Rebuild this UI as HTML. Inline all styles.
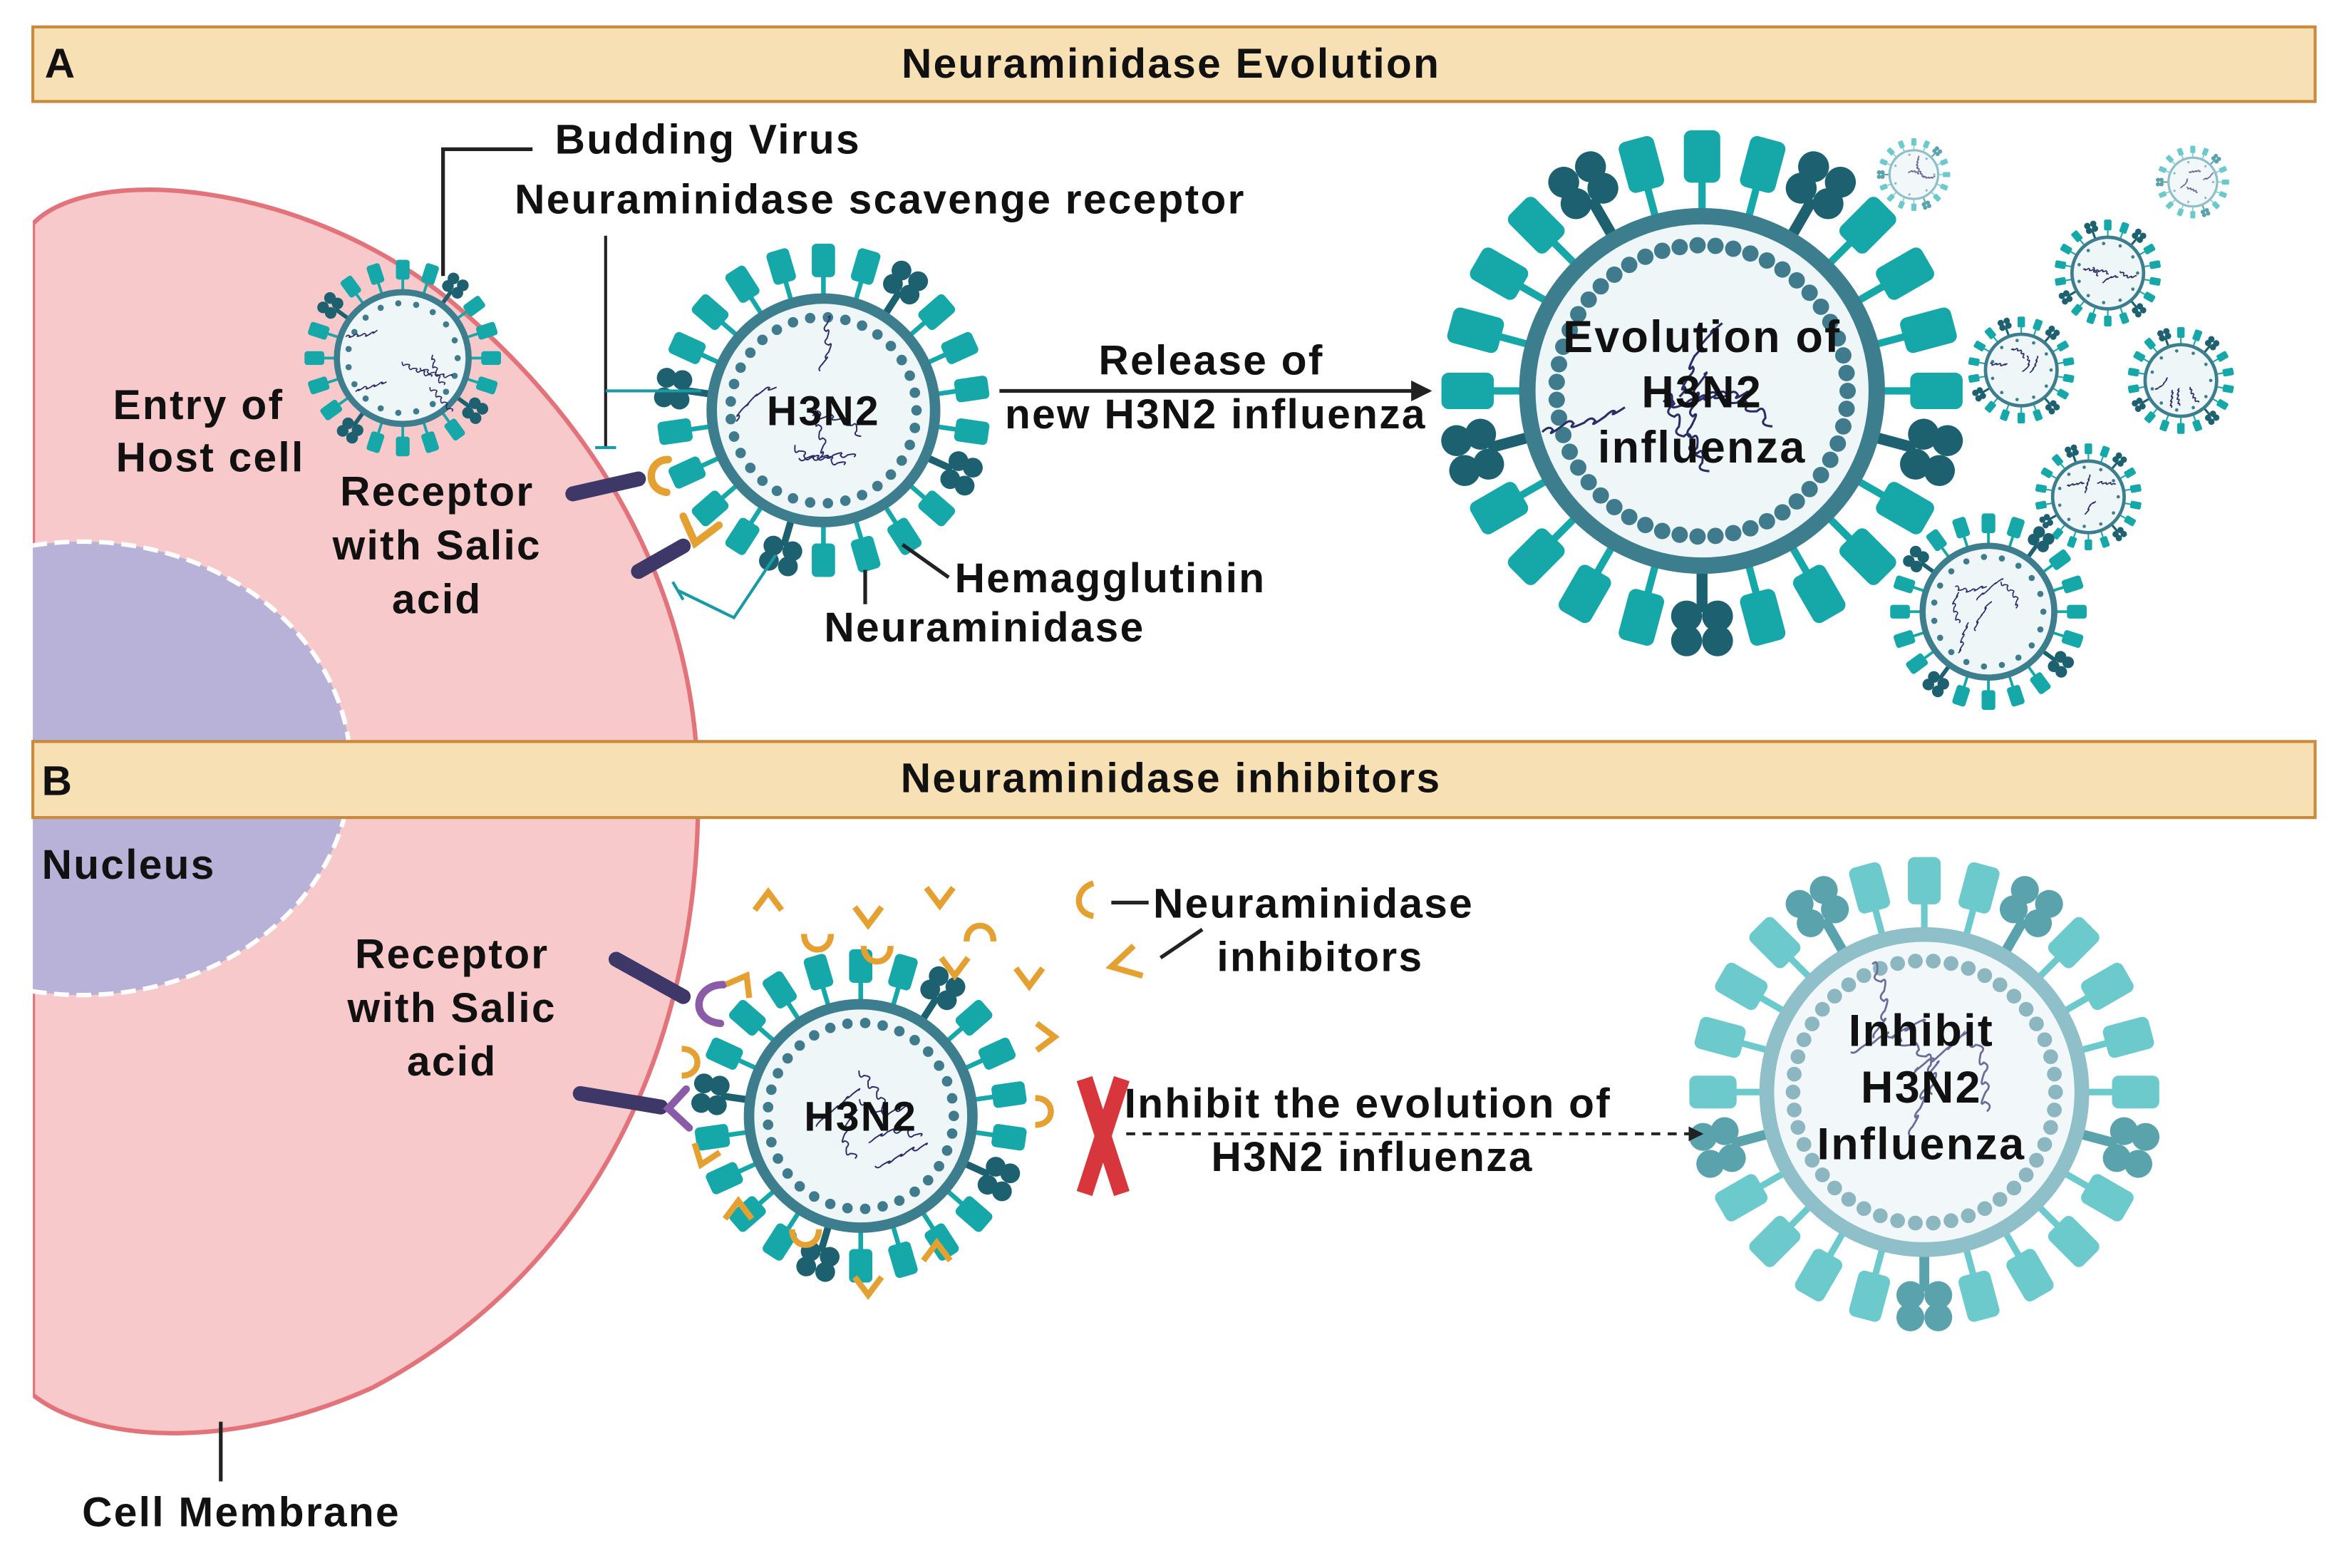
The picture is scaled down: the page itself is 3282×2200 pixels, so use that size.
<!DOCTYPE html>
<html><head><meta charset="utf-8">
<style>
html,body{margin:0;padding:0;background:#fff;}
svg{display:block;}
text{font-family:"Liberation Sans",sans-serif;font-weight:bold;fill:#111;letter-spacing:1.1px;}
</style></head>
<body>
<svg id="s" width="3282" height="2200" viewBox="0 0 1568 1051" xmlns="http://www.w3.org/2000/svg">
<defs>
<clipPath id="cellclip"><path d="M22,150 C60,110 200,120 300,200 C420,300 470,420 468,540 C466,700 400,850 250,930 C150,975 60,965 22,935 Z"/></clipPath>
<marker id="ah" markerWidth="10" markerHeight="10" refX="8" refY="5" orient="auto" markerUnits="userSpaceOnUse"><path d="M0,0 L10,5 L0,10 Z" fill="#222"/></marker>
<marker id="ah2" markerWidth="14" markerHeight="14" refX="12" refY="7" orient="auto" markerUnits="userSpaceOnUse"><path d="M0,0 L14,7 L0,14 Z" fill="#222"/></marker>
</defs>
<rect width="1568" height="1051" fill="#fff"/>
<path d="M22,150 C60,110 200,120 300,200 C420,300 470,420 468,540 C466,700 400,850 250,930 C150,975 60,965 22,935 Z" fill="#f8c9cb" stroke="#e2737a" stroke-width="3"/>
<g clip-path="url(#cellclip)">
<ellipse cx="55" cy="515" rx="180" ry="152" fill="#b8b1d8" stroke="#fff" stroke-width="3" stroke-dasharray="10,5"/>
</g>
<rect x="0" y="140" width="22" height="820" fill="#fff"/>
<rect x="22" y="18" width="1530" height="50" fill="#f6e0b4" stroke="#c98a3e" stroke-width="2"/>
<text x="30" y="52" font-size="28">A</text>
<text x="785" y="52" font-size="28" text-anchor="middle">Neuraminidase Evolution</text>
<rect x="22" y="497" width="1530" height="51" fill="#f6e0b4" stroke="#c98a3e" stroke-width="2"/>
<text x="28" y="533" font-size="28">B</text>
<text x="785" y="531" font-size="28" text-anchor="middle">Neuraminidase inhibitors</text>

<g id="viruses"></g>

<g stroke-linecap="round">
<line x1="384" y1="331" x2="428" y2="321" stroke="#3d3868" stroke-width="10"/>
<path d="M448,308 C434,308 432,328 447,330" fill="none" stroke="#e5a032" stroke-width="5"/>
<line x1="428" y1="383" x2="458" y2="366" stroke="#3d3868" stroke-width="10"/>
<path d="M458,346 L466,364 L482,352" fill="none" stroke="#e5a032" stroke-width="5"/>
<line x1="413" y1="643" x2="458" y2="668" stroke="#3d3868" stroke-width="10"/>
<path d="M485,660 C465,660 462,684 483,686" fill="none" stroke="#8a5ca8" stroke-width="5"/>
<line x1="389" y1="733" x2="443" y2="742" stroke="#3d3868" stroke-width="10"/>
<path d="M460,730 L448,743 L462,756" fill="none" stroke="#8a5ca8" stroke-width="5"/>
</g>

<polyline points="357,100 297,100 297,185" fill="none" stroke="#222" stroke-width="2.5"/>
<line x1="406" y1="158" x2="406" y2="300" stroke="#222" stroke-width="2"/>
<line x1="406" y1="262" x2="470" y2="262" stroke="#1a9aa5" stroke-width="2"/>
<line x1="399" y1="300" x2="413" y2="300" stroke="#1a9aa5" stroke-width="2"/>
<polyline points="455,396 492,414 520,372" fill="none" stroke="#1a9aa5" stroke-width="2"/>
<line x1="451" y1="390" x2="458" y2="402" stroke="#1a9aa5" stroke-width="2"/>
<line x1="605" y1="365" x2="636" y2="387" stroke="#222" stroke-width="2.5"/>
<line x1="580" y1="382" x2="580" y2="405" stroke="#222" stroke-width="2.5"/>
<line x1="670" y1="262" x2="958" y2="262" stroke="#222" stroke-width="2.5" marker-end="url(#ah2)"/>

<text font-size="28" x="372" y="103">Budding Virus</text>
<text font-size="28" x="345" y="143">Neuraminidase scavenge receptor</text>
<text font-size="28" x="133" y="281" text-anchor="middle">Entry of</text>
<text font-size="28" x="141" y="316" text-anchor="middle">Host cell</text>
<text font-size="28" x="293" y="339" text-anchor="middle">Receptor</text>
<text font-size="28" x="293" y="375" text-anchor="middle">with Salic</text>
<text font-size="28" x="293" y="411" text-anchor="middle">acid</text>
<text font-size="28" x="552" y="285" text-anchor="middle">H3N2</text>
<text font-size="28" x="812" y="251" text-anchor="middle">Release of</text>
<text font-size="28" x="815" y="287" text-anchor="middle">new H3N2 influenza</text>
<text font-size="28" x="640" y="397">Hemagglutinin</text>
<text font-size="28" x="660" y="430" text-anchor="middle">Neuraminidase</text>
<text font-size="30" x="1141" y="236" text-anchor="middle">Evolution of</text>
<text font-size="30" x="1141" y="273" text-anchor="middle">H3N2</text>
<text font-size="30" x="1141" y="310" text-anchor="middle">influenza</text>

<text font-size="28" x="28" y="589">Nucleus</text>
<text font-size="28" x="303" y="649" text-anchor="middle">Receptor</text>
<text font-size="28" x="303" y="685" text-anchor="middle">with Salic</text>
<text font-size="28" x="303" y="721" text-anchor="middle">acid</text>
<path d="M733,592 C720,596 720,612 733,614" fill="none" stroke="#e5a032" stroke-width="4"/>
<path d="M760,634 L745,648 L766,654" fill="none" stroke="#e5a032" stroke-width="4"/>
<line x1="745" y1="605" x2="770" y2="605" stroke="#222" stroke-width="2.5"/>
<line x1="778" y1="642" x2="806" y2="623" stroke="#222" stroke-width="2.5"/>
<text font-size="28" x="773" y="615">Neuraminidase</text>
<text font-size="28" x="885" y="651" text-anchor="middle">inhibitors</text>
<text font-size="28" x="577" y="758" text-anchor="middle">H3N2</text>
<line x1="755" y1="760" x2="1140" y2="760" stroke="#222" stroke-width="2" stroke-dasharray="6,5" marker-end="url(#ah)"/>
<g stroke="#d7373c" stroke-width="11" stroke-linecap="butt">
<line x1="727" y1="723" x2="752" y2="800"/>
<line x1="752" y1="723" x2="727" y2="800"/>
</g>
<text font-size="28" x="917" y="749" text-anchor="middle">Inhibit the evolution of</text>
<text font-size="28" x="920" y="785" text-anchor="middle">H3N2 influenza</text>
<text font-size="30" x="1288" y="701" text-anchor="middle">Inhibit</text>
<text font-size="30" x="1288" y="739" text-anchor="middle">H3N2</text>
<text font-size="30" x="1288" y="777" text-anchor="middle">Influenza</text>
<line x1="148" y1="953" x2="148" y2="993" stroke="#222" stroke-width="2.5"/>
<text font-size="28" x="55" y="1023">Cell Membrane</text>
<g id="inh"></g>
</svg>
<script>
(function(){
var seed=7;function rnd(){seed=(seed*9301+49297)%233280;return seed/233280;}
function virus(cx,cy,r,op){
  op=op||{};var o='';var light=op.light;
  var teal=light?'#6cc9cc':'#16a7a9', dark=light?'#5aa3ad':'#1d6070', mem=light?'#8fbfc8':'#3c7d8e', dot=light?'#8cb7c0':'#3f7b8c';
  var n=op.n||(r<35?18:22);
  var len=r*0.36,w=r*0.2;
  for(var i=0;i<n;i++){
    var a=i*360/n+(op.rot||0);
    var g='<g transform="translate('+cx+','+cy+') rotate('+a+')">';
    if(i%5==2){
      g+='<rect x="'+(-w*0.15)+'" y="'+(-r-len*0.6)+'" width="'+(w*0.3)+'" height="'+(len*0.6)+'" fill="'+dark+'"/>';
      var k=r*0.085,yy=-r-len*0.8;
      g+='<circle cx="'+(-k)+'" cy="'+(yy-k)+'" r="'+k+'" fill="'+dark+'"/><circle cx="'+k+'" cy="'+(yy-k)+'" r="'+k+'" fill="'+dark+'"/><circle cx="'+(-k)+'" cy="'+(yy+k*0.6)+'" r="'+k+'" fill="'+dark+'"/><circle cx="'+k+'" cy="'+(yy+k*0.6)+'" r="'+k+'" fill="'+dark+'"/>';
    } else {
      g+='<rect x="'+(-w*0.1)+'" y="'+(-r-len*0.5)+'" width="'+(w*0.2)+'" height="'+(len*0.5)+'" fill="'+teal+'"/>';
      g+='<rect x="'+(-w/2)+'" y="'+(-r-len*1.2)+'" width="'+w+'" height="'+(len*0.8)+'" rx="'+(w*0.2)+'" fill="'+teal+'"/>';
    }
    g+='</g>';o+=g;
  }
  o+='<circle cx="'+cx+'" cy="'+cy+'" r="'+(r*0.96)+'" fill="'+(light?'#f2f8f9':'#eef6f7')+'" stroke="'+mem+'" stroke-width="'+(r*0.09)+'"/>';
  var nd=Math.round(r*0.42);
  for(var j=0;j<nd;j++){var b=j*2*Math.PI/nd;o+='<circle cx="'+(cx+Math.cos(b)*r*0.8).toFixed(1)+'" cy="'+(cy+Math.sin(b)*r*0.8).toFixed(1)+'" r="'+(r*0.045)+'" fill="'+dot+'"/>';}
  var ns=r<35?4:6;
  for(var s=0;s<ns;s++){
    var x=cx+(rnd()-0.5)*r*0.9,y=cy+(rnd()-0.5)*r*0.9,d='M'+x.toFixed(1)+','+y.toFixed(1);
    var amp=r*0.04,stp=r*0.06,ang=rnd()*6.28;
    for(var t=0;t<8;t++){x+=Math.cos(ang)*stp;y+=Math.sin(ang)*stp;d+=' Q'+(x+amp*(t%2?1:-1)).toFixed(1)+','+(y-amp*(t%2?1:-1)).toFixed(1)+' '+x.toFixed(1)+','+y.toFixed(1);ang+=(rnd()-0.5)*0.8;}
    o+='<path d="'+d+'" fill="none" stroke="'+(light?'#6a6c99':'#2b2d66')+'" stroke-width="'+Math.max(0.8,r*0.012)+'"/>';
  }
  return o;
}
var h='';
h+=virus(270,240,46,{n:20});
h+=virus(552,275,78);
h+=virus(1141,262,122,{n:24});
h+=virus(1283,117,17,{light:1,n:16});
h+=virus(1470,122,17,{light:1,n:16});
h+=virus(1413,183,25,{n:18});
h+=virus(1355,248,25,{n:18});
h+=virus(1462,255,25,{n:18});
h+=virus(1400,333,25,{n:18});
h+=virus(1333,410,46,{n:20});
h+=virus(577,748,78);
h+=virus(1290,732,110,{light:1,n:24});
document.getElementById('viruses').innerHTML=h;
var pts=[[515,605,0],[548,632,180],[582,614,0],[630,600,180],[657,625,0],[690,655,0],[700,695,90],[700,745,90],[640,648,0],[497,660,30],[463,712,90],[472,775,20],[495,812,0],[540,830,180],[582,862,0],[628,840,0],[588,640,180]];
var s='';
pts.forEach(function(p,i){
  if(i%3==0) s+='<path transform="translate('+p[0]+','+p[1]+') rotate('+p[2]+')" d="M-9,5 L0,-7 L9,5" fill="none" stroke="#e5a032" stroke-width="4"/>';
  else if(i%3==1) s+='<path transform="translate('+p[0]+','+p[1]+') rotate('+p[2]+')" d="M-9,6 C-9,-8 9,-8 9,6" fill="none" stroke="#e5a032" stroke-width="4"/>';
  else s+='<path transform="translate('+p[0]+','+p[1]+') rotate('+p[2]+')" d="M-9,-6 L0,6 L9,-6" fill="none" stroke="#e5a032" stroke-width="4"/>';
});
document.getElementById('inh').innerHTML=s;
})();
</script>
</body></html>
